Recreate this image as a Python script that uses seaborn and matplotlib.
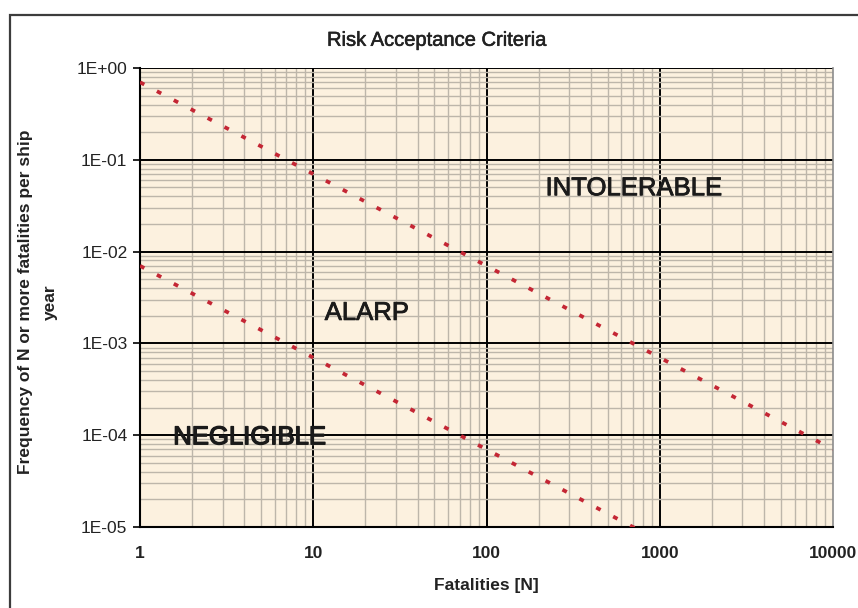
import matplotlib
matplotlib.use("Agg")
import matplotlib.pyplot as plt
import matplotlib.patheffects as pe
from matplotlib.patches import Rectangle
from matplotlib.ticker import LogLocator, FixedLocator, FixedFormatter, NullFormatter
import pandas as pd
import seaborn as sns

# F-N criterion lines: frequency of N or more fatalities per ship year
fatalities = [1, 10, 100, 1000, 10000]
intolerable_limit = [7e-1, 7e-2, 7e-3, 7e-4, 7e-5]
negligible_limit = [7e-3, 7e-4, 7e-5, 7e-6, 7e-7]

x_ticks = [1, 10, 100, 1000, 10000]
x_tick_labels = ["1", "10", "100", "1000", "10000"]
y_ticks = [1e-5, 1e-4, 1e-3, 1e-2, 1e-1, 1e0]
y_tick_labels = ["1E-05", "1E-04", "1E-03", "1E-02", "1E-01", "1E+00"]

region_labels = ["INTOLERABLE", "ALARP", "NEGLIGIBLE"]
region_x = [710, 20.4, 4.3]
region_y = [4.9e-2, 2.15e-3, 9.5e-5]
region_weight = [0.6, 0.6, 1.0]

sns.set_theme(style="white")
plt.rcParams["font.family"] = ["Liberation Sans", "DejaVu Sans"]

fig = plt.figure(figsize=(8.58, 6.08), dpi=100)
fig.patch.set_facecolor("white")

# outer chart-area frame
fig.add_artist(Rectangle((10 / 858, -0.05), 1.2, 1.05 - 15 / 608,
                         transform=fig.transFigure, fill=False,
                         edgecolor="#3c3c3c", linewidth=1.6))

ax = fig.add_axes([140 / 858, 1 - 527 / 608, 693 / 858, 459 / 608])
ax.set_facecolor("#fcf1df")

df = pd.DataFrame({
    "N": fatalities * 2,
    "F": intolerable_limit + negligible_limit,
    "line": ["upper"] * len(fatalities) + ["lower"] * len(fatalities),
})

sns.lineplot(data=df, x="N", y="F", hue="line", ax=ax,
             palette={"upper": "#c42634", "lower": "#c42634"},
             legend=False, linewidth=2.7, zorder=3)
for ln in ax.lines:
    ln.set_dashes((1.3, 3.8))
    ln.set_dash_capstyle("butt")

ax.set_xscale("log")
ax.set_yscale("log")
ax.set_xlim(1, 10000)
ax.set_ylim(1e-5, 1)

ax.xaxis.set_major_locator(FixedLocator(x_ticks))
ax.xaxis.set_major_formatter(FixedFormatter(x_tick_labels))
ax.yaxis.set_major_locator(FixedLocator(y_ticks))
ax.yaxis.set_major_formatter(FixedFormatter(y_tick_labels))
ax.xaxis.set_minor_locator(LogLocator(base=10, subs=range(2, 10), numticks=20))
ax.yaxis.set_minor_locator(LogLocator(base=10, subs=range(2, 10), numticks=20))
ax.xaxis.set_minor_formatter(NullFormatter())
ax.yaxis.set_minor_formatter(NullFormatter())

ax.set_axisbelow(True)
ax.grid(which="minor", color="#bdb6aa", linewidth=1.0)
ax.grid(which="major", color="black", linewidth=1.4)
ax.xaxis.get_gridlines()[-1].set_visible(False)

ax.tick_params(axis="y", which="major", direction="out", length=5, width=1.2,
               color="black", left=True, pad=4, labelsize=12.5, labelcolor="#222222")
ax.tick_params(axis="x", which="major", length=0, pad=14, labelsize=12.5,
               labelcolor="#222222")
ax.tick_params(which="minor", length=0)
for lab in ax.get_xticklabels():
    lab.set_fontweight("bold")

for side in ["left", "bottom"]:
    ax.spines[side].set_color("black")
    ax.spines[side].set_linewidth(1.5)
ax.spines["top"].set_visible(False)
ax.spines["right"].set_color("#8c8c8c")
ax.spines["right"].set_linewidth(1.2)

title = ax.set_title("Risk Acceptance Criteria", fontsize=14.5, color="#222222",
                     x=(437 - 140) / 693, pad=16)
title.set_path_effects([pe.withStroke(linewidth=0.4, foreground="#222222")])
ax.set_xlabel("Fatalities [N]", fontsize=12.5, fontweight="bold",
              color="#222222", labelpad=12)
ax.set_ylabel("Frequency of N or more fatalities per ship\nyear",
              fontsize=12.5, fontweight="bold", color="#222222",
              linespacing=1.75, multialignment="center")
ax.yaxis.label.set_verticalalignment("center")
ax.yaxis.set_label_coords((38 - 140) / 693, 0.49)

for text, xv, yv, w in zip(region_labels, region_x, region_y, region_weight):
    t = ax.text(xv, yv, text, ha="center", va="center", fontsize=18.5,
                color="#1a1a1a", zorder=4)
    t.set_path_effects([pe.withStroke(linewidth=w, foreground="#1a1a1a")])

fig.savefig("out.png", dpi=100)
